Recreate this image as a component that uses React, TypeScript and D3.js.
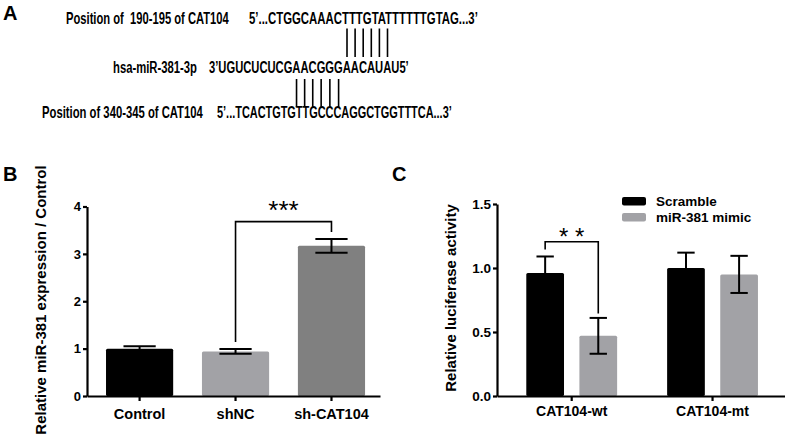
import React, { useRef, useEffect } from "react";
import * as d3 from "d3";

// Panel A: binding sites
const siteLabels = ["Position of  190-195 of CAT104", "hsa-miR-381-3p", "Position of 340-345 of CAT104"];
const siteSequences = [
  "5’...CTGGCAAACTTTGTATTTTTTGTAG...3’",
  "3’UGUCUCUCGAACGGGAACAUAU5’",
  "5’...TCACTGTGTTGCCCAGGCTGGTTTCA...3’",
];
// character indices in the miRNA string that pair with the upper / lower site
const upperPairs = [17, 18, 19, 20, 21, 22];
const lowerPairs = [11, 12, 13, 14, 15, 16];

// Panel B
const expressionGroups = ["Control", "shNC", "sh-CAT104"];
const expressionMeans = [1.0, 0.94, 3.17];
const expressionErrors = [0.05, 0.05, 0.145];
const expressionColors = ["#000000", "#a2a2a6", "#808080"];
const expressionTicks = [0, 1, 2, 3, 4];
const expressionSigPair = ["shNC", "sh-CAT104"];
const expressionSigLabel = "***";
const expressionSigLevel = 3.68;

// Panel C
const constructs = ["CAT104-wt", "CAT104-mt"];
const treatments = ["Scramble", "miR-381 mimic"];
const scrambleMeans = [0.96, 1.0];
const scrambleErrors = [0.13, 0.12];
const mimicMeans = [0.47, 0.95];
const mimicErrors = [0.14, 0.145];
const treatmentColors = ["#000000", "#a2a2a6"];
const luciferaseTicks = [0, 0.5, 1.0, 1.5];
const luciferaseSigConstruct = "CAT104-wt";
const luciferaseSigLabel = "* *";
const luciferaseSigLevel = 1.205;

const FONT = "'Liberation Sans', Arial, Helvetica, sans-serif";

const App: React.FC = () => {
  const chartRef = useRef<SVGSVGElement | null>(null);

  useEffect(() => {
    if (!chartRef.current) return;
    const svg = d3.select(chartRef.current);
    svg.selectAll("*").remove();
    svg.attr("font-family", FONT).attr("font-weight", "bold");

    // panel letters
    svg.append("text").attr("x", 3).attr("y", 20).attr("font-size", 20).text("A");
    svg.append("text").attr("x", 3).attr("y", 181).attr("font-size", 20).text("B");
    svg.append("text").attr("x", 392).attr("y", 181).attr("font-size", 20).text("C");

    // ---------- Panel A ----------
    // the source text is squeezed horizontally: each string is scaled to its span
    const rows = [
      { label: [66, 229], seq: [249, 478], y: 24 },
      { label: [113, 197], seq: [209, 409], y: 72.5 },
      { label: [42, 203], seq: [217, 452], y: 117.5 },
    ];
    const fitted = (str: string, span: number[], y: number) => {
      const t = svg
        .append("text")
        .attr("font-size", 16)
        .style("white-space", "pre")
        .text(str);
      const node = t.node() as SVGTextElement;
      const sx = (span[1] - span[0]) / node.getComputedTextLength();
      const centers = str
        .split("")
        .map((_, k) => span[0] + sx * ((node.getStartPositionOfChar(k).x + node.getEndPositionOfChar(k).x) / 2));
      t.attr("transform", `translate(${span[0]},${y}) scale(${sx},1)`);
      return centers;
    };
    let mirCenters: number[] = [];
    rows.forEach((r, i) => {
      fitted(siteLabels[i], r.label, r.y);
      const c = fitted(siteSequences[i], r.seq, r.y);
      if (i === 1) mirCenters = c;
    });
    const charX = (k: number) => mirCenters[k];

    svg
      .append("g")
      .selectAll("line")
      .data(upperPairs)
      .join("line")
      .attr("x1", charX)
      .attr("x2", charX)
      .attr("y1", 28.5)
      .attr("y2", 57)
      .attr("stroke", "#000")
      .attr("stroke-width", 1.6);
    svg
      .append("g")
      .selectAll("line")
      .data(lowerPairs)
      .join("line")
      .attr("x1", charX)
      .attr("x2", charX)
      .attr("y1", 79)
      .attr("y2", 107)
      .attr("stroke", "#000")
      .attr("stroke-width", 1.6);

    const styleAxis = (g: d3.Selection<SVGGElement, unknown, null, undefined>, size: number) => {
      g.attr("font-family", FONT).attr("font-size", size).attr("font-weight", "bold");
      g.selectAll(".domain").attr("stroke", "#000").attr("stroke-width", 2.2);
      g.selectAll(".tick line").attr("stroke", "#000").attr("stroke-width", 2.2);
      g.selectAll(".tick text").attr("fill", "#000");
    };

    // ---------- Panel B ----------
    const bBase = 396;
    const yB = d3.scaleLinear().domain([0, 4]).range([bBase, 206.5]);
    const xB = d3
      .scaleBand()
      .domain(expressionGroups)
      .range([87, 380])
      .paddingInner(0.3)
      .paddingOuter(0.177)
      .align(0.56);

    const bData = expressionGroups.map((g, i) => ({
      g,
      m: expressionMeans[i],
      e: expressionErrors[i],
      c: expressionColors[i],
    }));

    svg
      .append("g")
      .selectAll("rect")
      .data(bData)
      .join("rect")
      .attr("x", (d) => xB(d.g) || 0)
      .attr("y", (d) => yB(d.m))
      .attr("width", xB.bandwidth())
      .attr("height", (d) => bBase - yB(d.m))
      .attr("rx", 1.5)
      .attr("fill", (d) => d.c);

    const capB = xB.bandwidth() * 0.24;
    const errB = svg.append("g").attr("stroke", "#000").attr("stroke-width", 2);
    bData.forEach((d) => {
      const cx = (xB(d.g) || 0) + xB.bandwidth() / 2;
      errB.append("line").attr("x1", cx).attr("x2", cx).attr("y1", yB(d.m - d.e)).attr("y2", yB(d.m + d.e));
      [d.m - d.e, d.m + d.e].forEach((v) =>
        errB.append("line").attr("x1", cx - capB).attr("x2", cx + capB).attr("y1", yB(v)).attr("y2", yB(v))
      );
    });

    // significance bracket B
    {
      const [a, b] = expressionSigPair.map((g) => bData.find((d) => d.g === g)!);
      const xa = (xB(a.g) || 0) + xB.bandwidth() / 2;
      const xb = (xB(b.g) || 0) + xB.bandwidth() / 2;
      const top = yB(expressionSigLevel);
      svg
        .append("path")
        .attr("d", `M${xa},${yB(a.m + a.e) - 7}V${top}H${xb}V${yB(b.m + b.e) - 7}`)
        .attr("fill", "none")
        .attr("stroke", "#000")
        .attr("stroke-width", 1.6);
      svg
        .append("text")
        .attr("x", (xa + xb) / 2)
        .attr("y", top - 3)
        .attr("text-anchor", "middle")
        .attr("font-size", 26)
        .attr("font-weight", "normal")
        .text(expressionSigLabel);
    }

    const gyB = svg
      .append("g")
      .attr("transform", "translate(87,0)")
      .call(d3.axisLeft(yB).tickValues(expressionTicks).tickFormat(d3.format("d")).tickSize(4).tickSizeOuter(0).tickPadding(2));
    styleAxis(gyB, 13);
    const gxB = svg
      .append("g")
      .attr("transform", `translate(0,${bBase})`)
      .call(d3.axisBottom(xB).tickSize(5).tickSizeOuter(0).tickPadding(8));
    styleAxis(gxB, 14.5);

    svg
      .append("text")
      .attr("transform", `translate(45.5,300) rotate(-90)`)
      .attr("text-anchor", "middle")
      .attr("font-size", 15)
      .text("Relative miR-381 expression / Control");

    // ---------- Panel C ----------
    const cBase = 396;
    const yC = d3.scaleLinear().domain([0, 1.5]).range([cBase, 204]);
    const x0C = d3
      .scaleBand()
      .domain(constructs)
      .range([497, 785])
      .paddingInner(0.355)
      .paddingOuter(0.2)
      .align(0.52);
    const x1C = d3.scaleBand().domain(treatments).range([0, x0C.bandwidth()]).paddingInner(0.29).paddingOuter(0);

    const cData = constructs.flatMap((c, i) => [
      { c, t: treatments[0], m: scrambleMeans[i], e: scrambleErrors[i], col: treatmentColors[0] },
      { c, t: treatments[1], m: mimicMeans[i], e: mimicErrors[i], col: treatmentColors[1] },
    ]);
    const cx = (d: { c: string; t: string }) => (x0C(d.c) || 0) + (x1C(d.t) || 0) + x1C.bandwidth() / 2;

    svg
      .append("g")
      .selectAll("rect")
      .data(cData)
      .join("rect")
      .attr("x", (d) => (x0C(d.c) || 0) + (x1C(d.t) || 0))
      .attr("y", (d) => yC(d.m))
      .attr("width", x1C.bandwidth())
      .attr("height", (d) => cBase - yC(d.m))
      .attr("rx", 1.5)
      .attr("fill", (d) => d.col);

    const capC = x1C.bandwidth() * 0.23;
    const errC = svg.append("g").attr("stroke", "#000").attr("stroke-width", 2);
    cData.forEach((d) => {
      const x = cx(d);
      errC.append("line").attr("x1", x).attr("x2", x).attr("y1", yC(d.m - d.e)).attr("y2", yC(d.m + d.e));
      [d.m - d.e, d.m + d.e].forEach((v) =>
        errC.append("line").attr("x1", x - capC).attr("x2", x + capC).attr("y1", yC(v)).attr("y2", yC(v))
      );
    });

    {
      const [a, b] = cData.filter((d) => d.c === luciferaseSigConstruct);
      const xa = cx(a);
      const xb = cx(b);
      const top = yC(luciferaseSigLevel);
      svg
        .append("path")
        .attr("d", `M${xa},${yC(a.m + a.e) - 7}V${top}H${xb}V${yC(b.m + b.e) - 4.5}`)
        .attr("fill", "none")
        .attr("stroke", "#000")
        .attr("stroke-width", 1.6);
      svg
        .append("text")
        .attr("x", (xa + xb) / 2)
        .attr("y", top + 3)
        .attr("text-anchor", "middle")
        .attr("font-size", 24)
        .attr("font-weight", "normal")
        .style("white-space", "pre")
        .text(luciferaseSigLabel);
    }

    const gyC = svg
      .append("g")
      .attr("transform", "translate(497,0)")
      .call(d3.axisLeft(yC).tickValues(luciferaseTicks).tickFormat(d3.format(".1f")).tickSize(4).tickSizeOuter(0).tickPadding(2));
    styleAxis(gyC, 13.5);
    const gxC = svg
      .append("g")
      .attr("transform", `translate(0,${cBase})`)
      .call(d3.axisBottom(x0C).tickSize(5).tickSizeOuter(0).tickPadding(5.5));
    styleAxis(gxC, 14);

    svg
      .append("text")
      .attr("transform", `translate(455.5,298) rotate(-90)`)
      .attr("text-anchor", "middle")
      .attr("font-size", 15)
      .text("Relative luciferase activity");

    // legend
    const legend = svg.append("g").attr("font-size", 13.5);
    treatments.forEach((t, i) => {
      legend
        .append("rect")
        .attr("x", 622)
        .attr("y", 197 + i * 16)
        .attr("width", 24)
        .attr("height", 8.5)
        .attr("rx", 2)
        .attr("fill", treatmentColors[i]);
      legend
        .append("text")
        .attr("x", 656)
        .attr("y", 205.5 + i * 16)
        .text(t);
    });
  }, []);

  return (
    <div style={{ position: "absolute", left: 0, top: 0, background: "#fff" }}>
      <svg ref={chartRef} width={785} height={443} style={{ display: "block" }} />
    </div>
  );
};

export default App;
